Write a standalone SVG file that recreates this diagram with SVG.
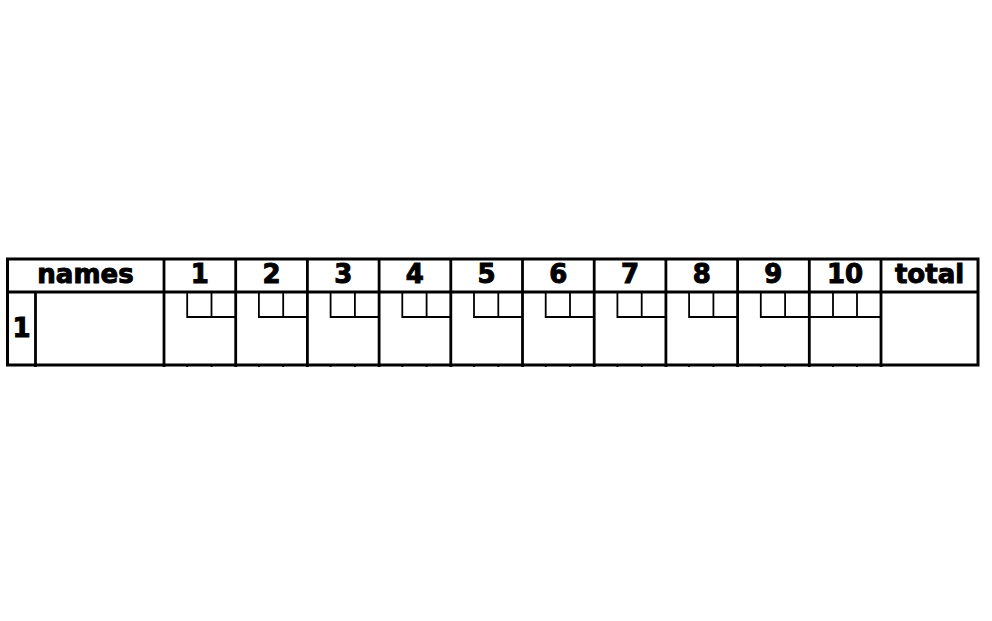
<svg xmlns="http://www.w3.org/2000/svg" width="992" height="621" viewBox="0 0 992 621">
<style>
.b{stroke:#000;stroke-width:3;fill:none}
.c{stroke:#000;stroke-width:2.8;fill:none}
.s{stroke:#000;stroke-width:1.8;fill:none}
.t{font-family:"DejaVu Sans",sans-serif;font-weight:bold;font-size:26px;fill:#000;stroke:#000;stroke-width:1;text-anchor:middle}
</style>
<rect width="992" height="621" fill="#fff"/>
<g id="table">
<rect class="b" x="7.5" y="259" width="970.5" height="106"/>
<line class="c" x1="7.5" y1="292" x2="978" y2="292"/>
<line class="c" x1="35.5" y1="292" x2="35.5" y2="365"/>
</g>
<g id="connectors">
<line class="c" x1="164" y1="259" x2="164" y2="367"/>
<line class="c" x1="235.7" y1="259" x2="235.7" y2="367"/>
<line class="c" x1="307.4" y1="259" x2="307.4" y2="367"/>
<line class="c" x1="379.1" y1="259" x2="379.1" y2="367"/>
<line class="c" x1="450.8" y1="259" x2="450.8" y2="367"/>
<line class="c" x1="522.5" y1="259" x2="522.5" y2="367"/>
<line class="c" x1="594.2" y1="259" x2="594.2" y2="367"/>
<line class="c" x1="665.9" y1="259" x2="665.9" y2="367"/>
<line class="c" x1="737.6" y1="259" x2="737.6" y2="367"/>
<line class="c" x1="809.3" y1="259" x2="809.3" y2="367"/>
<line class="c" x1="881" y1="259" x2="881" y2="367"/>
<line class="c" x1="35.5" y1="365" x2="35.5" y2="367"/>
</g>
<g id="names"><text class="t" x="85.5" y="282.5">names</text></g>
<g id="row1"><text class="t" x="21.5" y="336.5">1</text></g>
<g id="total"><text class="t" x="929.5" y="282.5">total</text></g>
<g id="frame1"><text class="t" x="199.8" y="282.5">1</text><path class="s" d="M187.2,292V317H235.7M211.5,292V317M187.2,365V367M211.5,365V367"/></g>
<g id="frame2"><text class="t" x="271.5" y="282.5">2</text><path class="s" d="M258.9,292V317H307.4M283.2,292V317M258.9,365V367M283.2,365V367"/></g>
<g id="frame3"><text class="t" x="343.2" y="282.5">3</text><path class="s" d="M330.6,292V317H379.1M354.9,292V317M330.6,365V367M354.9,365V367"/></g>
<g id="frame4"><text class="t" x="414.9" y="282.5">4</text><path class="s" d="M402.3,292V317H450.8M426.6,292V317M402.3,365V367M426.6,365V367"/></g>
<g id="frame5"><text class="t" x="486.6" y="282.5">5</text><path class="s" d="M474,292V317H522.5M498.3,292V317M474,365V367M498.3,365V367"/></g>
<g id="frame6"><text class="t" x="558.3" y="282.5">6</text><path class="s" d="M545.7,292V317H594.2M570,292V317M545.7,365V367M570,365V367"/></g>
<g id="frame7"><text class="t" x="630" y="282.5">7</text><path class="s" d="M617.4,292V317H665.9M641.7,292V317M617.4,365V367M641.7,365V367"/></g>
<g id="frame8"><text class="t" x="701.7" y="282.5">8</text><path class="s" d="M689.1,292V317H737.6M713.4,292V317M689.1,365V367M713.4,365V367"/></g>
<g id="frame9"><text class="t" x="773.4" y="282.5">9</text><path class="s" d="M760.8,292V317H809.3M785.1,292V317M760.8,365V367M785.1,365V367"/></g>
<g id="frame10"><text class="t" x="845.1" y="282.5">10</text><path class="s" d="M809.3,317H881M833,292V317M857,292V317M833,365V367M857,365V367"/></g>
</svg>
